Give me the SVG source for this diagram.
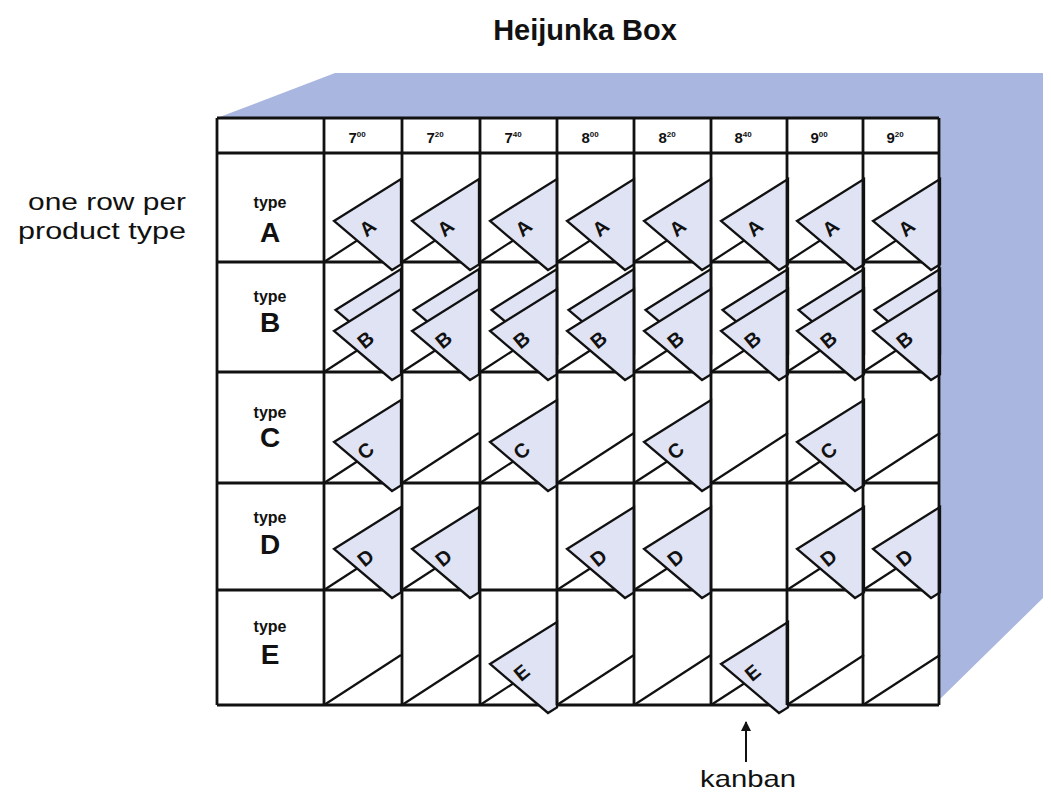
<svg xmlns="http://www.w3.org/2000/svg" width="1051" height="801" viewBox="0 0 1051 801">
<style>
text{font-family:"Liberation Sans",Arial,sans-serif;fill:#111}
.title{font-size:29px;font-weight:bold}
.side{font-size:24px}
.hdr{font-size:15px;font-weight:bold}
.sup{font-size:8px;font-weight:bold}
.typ{font-size:16px;font-weight:bold}
.big{font-size:28px;font-weight:bold}
.kl{font-size:20px;font-weight:bold}
.card{fill:#dfe3f4;stroke:#111;stroke-width:2.3;stroke-linejoin:miter}
.slot{stroke:#111;stroke-width:2.2}
.grid{stroke:#111;stroke-width:2.8;fill:none}
</style>
<defs>
<polygon id="card" class="card" points="10,-41 77,-83 77,2.4 68,8"/>
<polygon id="card2" class="card" points="11.5,-62 77,-103 77,-17.7 69.5,-13"/>
<line id="slot" class="slot" x1="0" y1="0" x2="77" y2="-50"/>
<marker id="ah" viewBox="0 0 10 10" refX="9" refY="5" markerWidth="10" markerHeight="12" markerUnits="userSpaceOnUse" orient="auto"><path d="M0,0 L10,5 L0,10 z" fill="#111"/></marker>
</defs>
<rect width="1051" height="801" fill="#fff"/>
<text class="title" x="585" y="40" text-anchor="middle">Heijunka Box</text>
<g id="box">
<polygon points="217,118 335,73 1043,73 1043,598 939,700 939,118" fill="#a9b6df"/>
<rect x="217" y="118" width="722" height="587" fill="#fff"/>
</g>
<g id="grid-h" class="grid">
<line x1="217" y1="153" x2="939" y2="153"/>
<line x1="217" y1="262" x2="939" y2="262"/>
<line x1="217" y1="372" x2="939" y2="372"/>
<line x1="217" y1="483" x2="939" y2="483"/>
<line x1="217" y1="590" x2="939" y2="590"/>
<line x1="217" y1="118" x2="939" y2="118"/>
<line x1="217" y1="705" x2="939" y2="705"/>
</g>
<g id="header">
<text class="hdr" x="357" y="143" text-anchor="middle">7<tspan class="sup" dy="-6">00</tspan></text>
<text class="hdr" x="435" y="143" text-anchor="middle">7<tspan class="sup" dy="-6">20</tspan></text>
<text class="hdr" x="513" y="143" text-anchor="middle">7<tspan class="sup" dy="-6">40</tspan></text>
<text class="hdr" x="590" y="143" text-anchor="middle">8<tspan class="sup" dy="-6">00</tspan></text>
<text class="hdr" x="667" y="143" text-anchor="middle">8<tspan class="sup" dy="-6">20</tspan></text>
<text class="hdr" x="743" y="143" text-anchor="middle">8<tspan class="sup" dy="-6">40</tspan></text>
<text class="hdr" x="819" y="143" text-anchor="middle">9<tspan class="sup" dy="-6">00</tspan></text>
<text class="hdr" x="895" y="143" text-anchor="middle">9<tspan class="sup" dy="-6">20</tspan></text>
</g>
<g id="row-labels">
<text class="typ" x="270" y="208" text-anchor="middle">type</text>
<text class="big" x="270" y="242" text-anchor="middle">A</text>
<text class="typ" x="270" y="302" text-anchor="middle">type</text>
<text class="big" x="270" y="332" text-anchor="middle">B</text>
<text class="typ" x="270" y="418" text-anchor="middle">type</text>
<text class="big" x="270" y="447" text-anchor="middle">C</text>
<text class="typ" x="270" y="523" text-anchor="middle">type</text>
<text class="big" x="270" y="554" text-anchor="middle">D</text>
<text class="typ" x="270" y="632" text-anchor="middle">type</text>
<text class="big" x="270" y="664" text-anchor="middle">E</text>
</g>
<g id="rowA">
<g id="cellA1" transform="translate(324,262)"><use href="#slot"/><use href="#card"/><text class="kl" transform="translate(48,-29) rotate(-40)" text-anchor="middle">A</text></g>
<g id="cellA2" transform="translate(402,262)"><use href="#slot"/><use href="#card"/><text class="kl" transform="translate(48,-29) rotate(-40)" text-anchor="middle">A</text></g>
<g id="cellA3" transform="translate(480,262)"><use href="#slot"/><use href="#card"/><text class="kl" transform="translate(48,-29) rotate(-40)" text-anchor="middle">A</text></g>
<g id="cellA4" transform="translate(557,262)"><use href="#slot"/><use href="#card"/><text class="kl" transform="translate(48,-29) rotate(-40)" text-anchor="middle">A</text></g>
<g id="cellA5" transform="translate(634,262)"><use href="#slot"/><use href="#card"/><text class="kl" transform="translate(48,-29) rotate(-40)" text-anchor="middle">A</text></g>
<g id="cellA6" transform="translate(711,262)"><use href="#slot"/><use href="#card"/><text class="kl" transform="translate(48,-29) rotate(-40)" text-anchor="middle">A</text></g>
<g id="cellA7" transform="translate(787,262)"><use href="#slot"/><use href="#card"/><text class="kl" transform="translate(48,-29) rotate(-40)" text-anchor="middle">A</text></g>
<g id="cellA8" transform="translate(863,262)"><use href="#slot"/><use href="#card"/><text class="kl" transform="translate(48,-29) rotate(-40)" text-anchor="middle">A</text></g>
</g>
<g id="rowB">
<g id="cellB1" transform="translate(324,372)"><use href="#slot"/><use href="#card2"/><use href="#card"/><text class="kl" transform="translate(46,-27) rotate(-40)" text-anchor="middle">B</text></g>
<g id="cellB2" transform="translate(402,372)"><use href="#slot"/><use href="#card2"/><use href="#card"/><text class="kl" transform="translate(46,-27) rotate(-40)" text-anchor="middle">B</text></g>
<g id="cellB3" transform="translate(480,372)"><use href="#slot"/><use href="#card2"/><use href="#card"/><text class="kl" transform="translate(46,-27) rotate(-40)" text-anchor="middle">B</text></g>
<g id="cellB4" transform="translate(557,372)"><use href="#slot"/><use href="#card2"/><use href="#card"/><text class="kl" transform="translate(46,-27) rotate(-40)" text-anchor="middle">B</text></g>
<g id="cellB5" transform="translate(634,372)"><use href="#slot"/><use href="#card2"/><use href="#card"/><text class="kl" transform="translate(46,-27) rotate(-40)" text-anchor="middle">B</text></g>
<g id="cellB6" transform="translate(711,372)"><use href="#slot"/><use href="#card2"/><use href="#card"/><text class="kl" transform="translate(46,-27) rotate(-40)" text-anchor="middle">B</text></g>
<g id="cellB7" transform="translate(787,372)"><use href="#slot"/><use href="#card2"/><use href="#card"/><text class="kl" transform="translate(46,-27) rotate(-40)" text-anchor="middle">B</text></g>
<g id="cellB8" transform="translate(863,372)"><use href="#slot"/><use href="#card2"/><use href="#card"/><text class="kl" transform="translate(46,-27) rotate(-40)" text-anchor="middle">B</text></g>
</g>
<g id="rowC">
<g id="cellC1" transform="translate(324,483)"><use href="#slot"/><use href="#card"/><text class="kl" transform="translate(46,-27) rotate(-40)" text-anchor="middle">C</text></g>
<g id="cellC2" transform="translate(402,483)"><use href="#slot"/></g>
<g id="cellC3" transform="translate(480,483)"><use href="#slot"/><use href="#card"/><text class="kl" transform="translate(46,-27) rotate(-40)" text-anchor="middle">C</text></g>
<g id="cellC4" transform="translate(557,483)"><use href="#slot"/></g>
<g id="cellC5" transform="translate(634,483)"><use href="#slot"/><use href="#card"/><text class="kl" transform="translate(46,-27) rotate(-40)" text-anchor="middle">C</text></g>
<g id="cellC6" transform="translate(711,483)"><use href="#slot"/></g>
<g id="cellC7" transform="translate(787,483)"><use href="#slot"/><use href="#card"/><text class="kl" transform="translate(46,-27) rotate(-40)" text-anchor="middle">C</text></g>
<g id="cellC8" transform="translate(863,483)"><use href="#slot"/></g>
</g>
<g id="rowD">
<g id="cellD1" transform="translate(324,590)"><use href="#slot"/><use href="#card"/><text class="kl" transform="translate(46,-27) rotate(-40)" text-anchor="middle">D</text></g>
<g id="cellD2" transform="translate(402,590)"><use href="#slot"/><use href="#card"/><text class="kl" transform="translate(46,-27) rotate(-40)" text-anchor="middle">D</text></g>
<g id="cellD4" transform="translate(557,590)"><use href="#slot"/><use href="#card"/><text class="kl" transform="translate(46,-27) rotate(-40)" text-anchor="middle">D</text></g>
<g id="cellD5" transform="translate(634,590)"><use href="#slot"/><use href="#card"/><text class="kl" transform="translate(46,-27) rotate(-40)" text-anchor="middle">D</text></g>
<g id="cellD7" transform="translate(787,590)"><use href="#slot"/><use href="#card"/><text class="kl" transform="translate(46,-27) rotate(-40)" text-anchor="middle">D</text></g>
<g id="cellD8" transform="translate(863,590)"><use href="#slot"/><use href="#card"/><text class="kl" transform="translate(46,-27) rotate(-40)" text-anchor="middle">D</text></g>
</g>
<g id="rowE">
<g id="cellE1" transform="translate(324,705)"><use href="#slot"/></g>
<g id="cellE2" transform="translate(402,705)"><use href="#slot"/></g>
<g id="cellE3" transform="translate(480,705)"><use href="#slot"/><use href="#card"/><text class="kl" transform="translate(46,-27) rotate(-40)" text-anchor="middle">E</text></g>
<g id="cellE4" transform="translate(557,705)"><use href="#slot"/></g>
<g id="cellE5" transform="translate(634,705)"><use href="#slot"/></g>
<g id="cellE6" transform="translate(711,705)"><use href="#slot"/><use href="#card"/><text class="kl" transform="translate(46,-27) rotate(-40)" text-anchor="middle">E</text></g>
<g id="cellE7" transform="translate(787,705)"><use href="#slot"/></g>
<g id="cellE8" transform="translate(863,705)"><use href="#slot"/></g>
</g>
<g id="grid-v" class="grid">
<line x1="217" y1="118" x2="217" y2="705"/>
<line x1="324" y1="118" x2="324" y2="705"/>
<line x1="402" y1="118" x2="402" y2="705"/>
<line x1="480" y1="118" x2="480" y2="705"/>
<line x1="557" y1="118" x2="557" y2="705"/>
<line x1="634" y1="118" x2="634" y2="705"/>
<line x1="711" y1="118" x2="711" y2="705"/>
<line x1="787" y1="118" x2="787" y2="705"/>
<line x1="863" y1="118" x2="863" y2="705"/>
<line x1="939" y1="118" x2="939" y2="705"/>
</g>
<g id="side-label">
<text class="side" x="186" y="210" text-anchor="end" textLength="158" lengthAdjust="spacingAndGlyphs">one row per</text>
<text class="side" x="186" y="239" text-anchor="end" textLength="168" lengthAdjust="spacingAndGlyphs">product type</text>
</g>
<g id="connectors">
<line x1="746" y1="762" x2="746" y2="722" stroke="#111" stroke-width="2" marker-end="url(#ah)"/>
</g>
<g id="kanban-label">
<text class="side" x="748" y="787" text-anchor="middle" textLength="96" lengthAdjust="spacingAndGlyphs">kanban</text>
</g>
</svg>
